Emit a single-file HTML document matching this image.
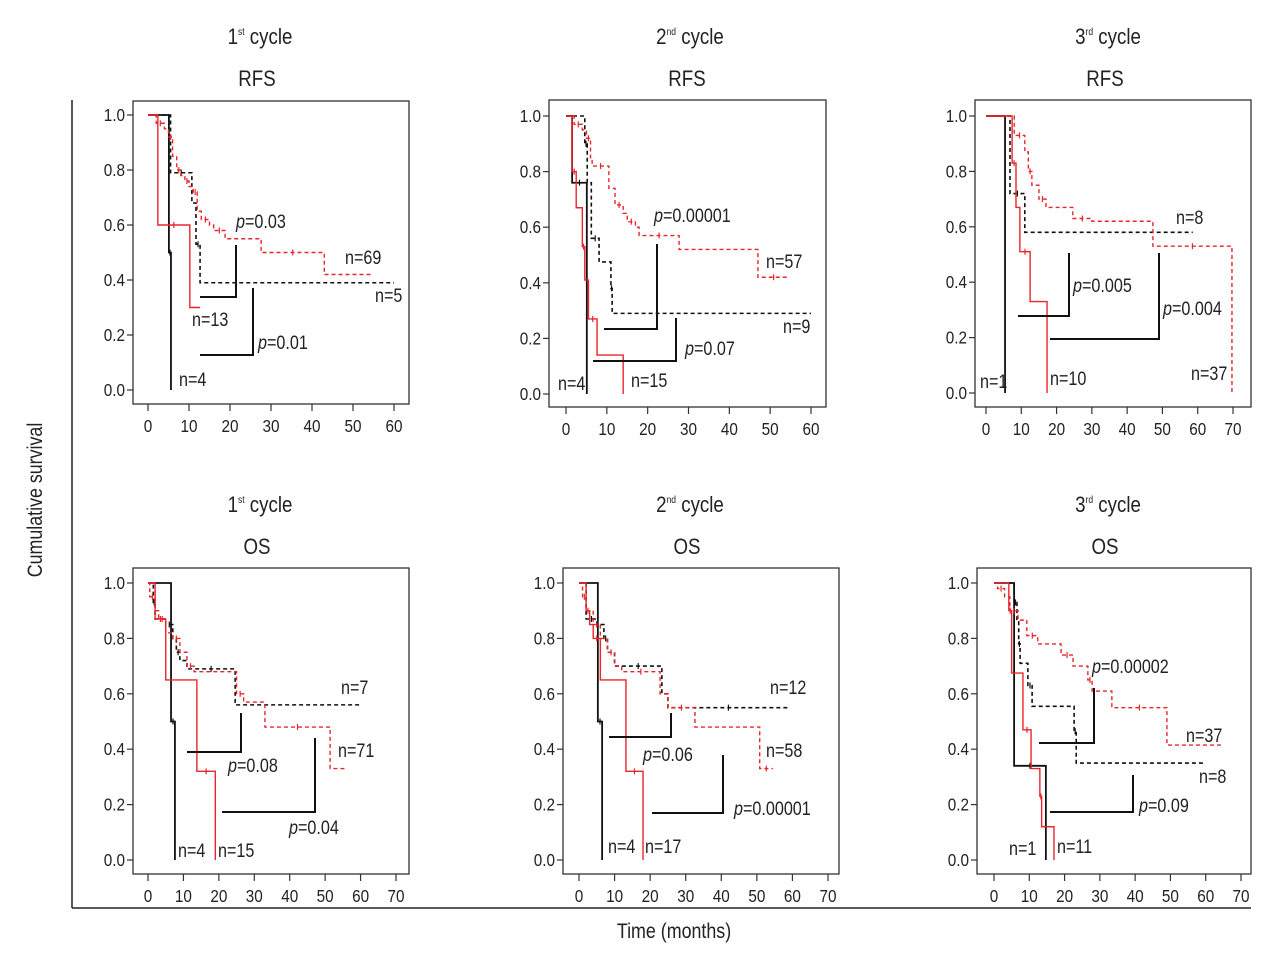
<!DOCTYPE html>
<html><head><meta charset="utf-8">
<style>
body{margin:0;background:#fff;}
svg{display:block;font-family:"Liberation Sans Narrow","Liberation Sans",sans-serif;}
text{fill:#222;}
</style></head>
<body>
<svg id="chart" width="1280" height="961" viewBox="0 0 1280 961" xmlns="http://www.w3.org/2000/svg">
<line x1="72" y1="100" x2="72" y2="908" stroke="#222" stroke-width="1.5"/>
<line x1="72" y1="908" x2="1251" y2="908" stroke="#222" stroke-width="1.5"/>
<text font-size="21" text-anchor="middle" transform="translate(42 500) rotate(-90) scale(0.85 1)">Cumulative survival</text>
<text font-size="21" text-anchor="middle" transform="translate(674 938) scale(0.85 1)">Time (months)</text>
</svg>
<script>
// ---- data: step curves [time, survival] ----
const p1BlackSolid=[[0,1],[5.1,0.5],[5.6,0]];
const p1BlackDash=[[0,1],[5.5,0.79],[10.7,0.68],[11.7,0.53],[12.7,0.39],[60,0.39]];
const p1RedSolid=[[0,1],[2.4,0.6],[10.2,0.3],[12.7,0.3]];
const p1RedDash=[[0,1],[2,0.97],[4,0.95],[5,0.92],[6,0.85],[7,0.8],[8,0.78],[9,0.76],[10,0.74],[11,0.72],[12,0.65],[13,0.62],[15,0.6],[16,0.58],[18.8,0.55],[27.6,0.5],[43,0.42],[55,0.42]];
const p2BlackSolid=[[0,1],[1.5,0.76],[5.1,0]];
const p2BlackDash=[[0,1],[4.6,0.9],[5.2,0.76],[6.2,0.56],[8.1,0.475],[11,0.38],[11.3,0.29],[60,0.29]];
const p2RedSolid=[[0,1],[1.5,0.8],[2.5,0.67],[4,0.53],[4.6,0.41],[5.5,0.27],[7.6,0.14],[14,0]];
const p2RedDash=[[0,1],[2,0.97],[4,0.95],[5,0.92],[6,0.85],[6.4,0.82],[10.5,0.74],[12,0.68],[14,0.65],[15,0.62],[17,0.6],[17.9,0.57],[27.7,0.52],[47,0.42],[54.7,0.42]];
const p3BlackSolid=[[0,1],[5.4,0]];
const p3BlackDash=[[0,1],[6.8,0.72],[11,0.58],[58.6,0.58]];
const p3RedSolid=[[0,1],[7.4,0.83],[8.5,0.67],[9.6,0.51],[12.5,0.33],[17.3,0]];
const p3RedDash=[[0,1],[8,0.93],[11,0.87],[12,0.8],[13,0.75],[15,0.7],[17,0.67],[24.6,0.63],[30,0.62],[47.3,0.53],[69.7,0.53],[69.7,0]];
const p4BlackSolid=[[0,1],[6.5,0.5],[7.6,0]];
const p4BlackDash=[[0,1],[1.5,0.93],[2,0.87],[5,0.85],[7,0.8],[8,0.75],[9,0.72],[11,0.69],[24.6,0.56],[60,0.56]];
const p4RedSolid=[[0,1],[2,0.87],[5,0.65],[13.8,0.32],[19,0]];
const p4RedDash=[[0,1],[0.5,0.95],[2,0.9],[3,0.87],[5,0.82],[7,0.8],[9,0.75],[11,0.7],[13,0.68],[25,0.6],[27,0.57],[33,0.48],[51.4,0.33],[55.7,0.33]];
const p5BlackSolid=[[0,1],[5.3,0.5],[6.5,0]];
const p5BlackDash=[[0,1],[2,0.87],[5,0.85],[7,0.8],[8,0.75],[10,0.7],[23.3,0.6],[25,0.55],[59,0.55]];
const p5RedSolid=[[0,1],[2,0.9],[3,0.85],[4,0.8],[6,0.65],[13.2,0.32],[18,0]];
const p5RedDash=[[0,1],[1,0.95],[2,0.9],[4,0.85],[6,0.8],[8,0.75],[10,0.7],[12,0.68],[22.8,0.6],[25,0.55],[32.6,0.48],[50.8,0.33],[54.5,0.33]];
const p6BlackSolid=[[0,1],[5.7,0.34],[14.7,0]];
const p6BlackDash=[[0,1],[5.7,0.93],[6.5,0.86],[7,0.78],[7.4,0.71],[9.6,0.63],[10.8,0.555],[22.7,0.465],[23.3,0.35],[59.8,0.35]];
const p6RedSolid=[[0,1],[4.2,0.9],[5,0.675],[8.2,0.47],[10.5,0.33],[13,0.23],[13.5,0.12],[17,0]];
const p6RedDash=[[0,1],[1,0.98],[3,0.95],[4.5,0.9],[6.8,0.866],[9.3,0.81],[12.4,0.78],[19,0.74],[22.4,0.7],[26.6,0.65],[27.8,0.61],[33.4,0.55],[49,0.415],[65,0.415]];
const yTicks=[0,0.2,0.4,0.6,0.8,1.0];
const xTicks60=[0,10,20,30,40,50,60];
const xTicks70=[0,10,20,30,40,50,60,70];

const NS="http://www.w3.org/2000/svg";
const svg=document.getElementById('chart');
const RED="#e8262b";
function mk(tag,attrs,parent){const e=document.createElementNS(NS,tag);for(const k in attrs)e.setAttribute(k,attrs[k]);(parent||svg).appendChild(e);return e;}
function txt(x,y,size,anchor,parent){return mk('text',{transform:'translate('+x+' '+y+') scale(0.85 1)','font-size':size,'text-anchor':anchor},parent);}

const panels=[
 {id:'p1',cyc:'1',sup:'st',kind:'RFS',fx:133,fy:101,fw:276,fh:303,x0:148,x1:394,y1:115,y0:390,xt:xTicks60,tx:265,ty:37,
  series:[p1BlackSolid,p1BlackDash,p1RedSolid,p1RedDash],
  br:[[[200,297],[236,297],[236,245]],[[200,355],[253,355],[253,288]]],
  tx2:[['p=0.03',236,228],['n=69',345,264],['n=5',375,302],['n=13',192,326],['p=0.01',258,349],['n=4',179,386]]},
 {id:'p2',cyc:'2',sup:'nd',kind:'RFS',fx:549,fy:100,fw:277,fh:307,x0:566,x1:811,y1:116,y0:394,xt:xTicks60,tx:695,ty:37,
  series:[p2BlackSolid,p2BlackDash,p2RedSolid,p2RedDash],
  br:[[[604,329],[657,329],[657,244]],[[593,361],[676,361],[676,318]]],
  tx2:[['p=0.00001',654,222],['n=57',766,268],['n=9',783,333],['p=0.07',685,355],['n=4',558,390],['n=15',631,387]]},
 {id:'p3',cyc:'3',sup:'rd',kind:'RFS',fx:975,fy:100,fw:276,fh:307,x0:986,x1:1233,y1:116,y0:393,xt:xTicks70,tx:1113,ty:37,
  series:[p3BlackSolid,p3BlackDash,p3RedSolid,p3RedDash],
  br:[[[1018,316],[1069,316],[1069,253]],[[1050,339],[1159,339],[1159,253]]],
  tx2:[['p=0.005',1073,292],['p=0.004',1163,315],['n=8',1176,224],['n=37',1191,380],['n=1',980,388],['n=10',1050,385]]},
 {id:'p4',cyc:'1',sup:'st',kind:'OS',fx:133,fy:568,fw:276,fh:306,x0:148,x1:396,y1:583,y0:860,xt:xTicks70,tx:265,ty:505,
  series:[p4BlackSolid,p4BlackDash,p4RedSolid,p4RedDash],
  br:[[[187,752],[241,752],[241,713]],[[222,812],[315,812],[315,738]]],
  tx2:[['n=7',341,694],['n=71',338,757],['p=0.08',228,772],['p=0.04',289,834],['n=4',178,857],['n=15',218,857]]},
 {id:'p5',cyc:'2',sup:'nd',kind:'OS',fx:563,fy:568,fw:276,fh:306,x0:579,x1:828,y1:583,y0:860,xt:xTicks70,tx:695,ty:505,
  series:[p5BlackSolid,p5BlackDash,p5RedSolid,p5RedDash],
  br:[[[609,737],[671,737],[671,713]],[[652,813],[723,813],[723,755]]],
  tx2:[['n=12',770,694],['n=58',766,757],['p=0.06',643,761],['p=0.00001',734,815],['n=4',608,853],['n=17',645,853]]},
 {id:'p6',cyc:'3',sup:'rd',kind:'OS',fx:977,fy:568,fw:274,fh:306,x0:994,x1:1241,y1:583,y0:860,xt:xTicks70,tx:1113,ty:505,
  series:[p6BlackSolid,p6BlackDash,p6RedSolid,p6RedDash],
  br:[[[1039,743],[1094,743],[1094,688]],[[1050,812],[1133,812],[1133,775]]],
  tx2:[['p=0.00002',1092,673],['n=37',1186,742],['n=8',1199,783],['p=0.09',1139,812],['n=1',1009,855],['n=11',1057,853]]}
];
const styles=[{c:'#111',d:null,w:1.8},{c:'#111',d:'4,3',w:1.6},{c:RED,d:null,w:1.4},{c:RED,d:'4,3',w:1.4}];
const snames=['black-solid-curve','black-dashed-curve','red-solid-curve','red-dashed-curve'];

panels.forEach(p=>{
  const g=mk('g',{});
  
  
  const X=t=>p.x0+(p.x1-p.x0)*t/(p.xt[p.xt.length-1]);
  const Y=s=>p.y0+(p.y1-p.y0)*s;
  const t1=txt(p.tx-5,p.ty+7,22,'middle',g);
  
  
  t1.innerHTML=p.cyc+'<tspan font-size="10" dy="-9">'+p.sup+'</tspan><tspan dy="9"> cycle</tspan>';
  const t2=txt(p.tx-8,p.ty+49,22,'middle',g);
  
  
  t2.textContent=p.kind;
  const fr=mk('rect',{x:p.fx,y:p.fy,width:p.fw,height:p.fh,fill:'none',stroke:'#333','stroke-width':1.3},g);
  
  
  yTicks.forEach(v=>{
    const y=Y(v);
    mk('line',{x1:p.fx-6,y1:y,x2:p.fx,y2:y,stroke:'#333','stroke-width':1.2},g);
    const tt=txt(p.fx-8,y+6,18,'end',g);
    
    
    tt.textContent=v.toFixed(1);
  });
  p.xt.forEach(v=>{
    const x=X(v);
    mk('line',{x1:x,y1:p.fy+p.fh,x2:x,y2:p.fy+p.fh+7,stroke:'#333','stroke-width':1.2},g);
    const tt=txt(x,p.fy+p.fh+28,18,'middle',g);
    
    
    tt.textContent=v;
  });
  p.series.forEach((s,i)=>{
    let d='M'+X(s[0][0])+','+Y(s[0][1]);
    for(let k=1;k<s.length;k++){d+=' H'+X(s[k][0])+' V'+Y(s[k][1]);}
    const st=styles[i];
    const a={d:d,fill:'none',stroke:st.c,'stroke-width':st.w};
    if(st.d)a['stroke-dasharray']=st.d;
    const pa=mk('path',a,g);
    
    
    for(let k=1;k<s.length-1;k+=2){
      if(s[k][1]>0){const cx=(X(s[k][0])+X(s[k+1][0]))/2;const cy=Y(s[k][1]);
        mk('line',{x1:cx,y1:cy-3,x2:cx,y2:cy+3,stroke:st.c,'stroke-width':1.2},g);}
    }
  });
  p.br.forEach(b=>{
    const pl=mk('polyline',{points:b.map(q=>q.join(',')).join(' '),fill:'none',stroke:'#111','stroke-width':2},g);
    
    
  });
  p.tx2.forEach(a=>{
    const tt=txt(a[1],a[2],19,'start',g);
    
    
    if(a[0].startsWith('p=')){tt.innerHTML='<tspan font-style="italic">p</tspan>'+a[0].slice(1);}
    else tt.textContent=a[0];
  });
});
</script>
</body></html>
